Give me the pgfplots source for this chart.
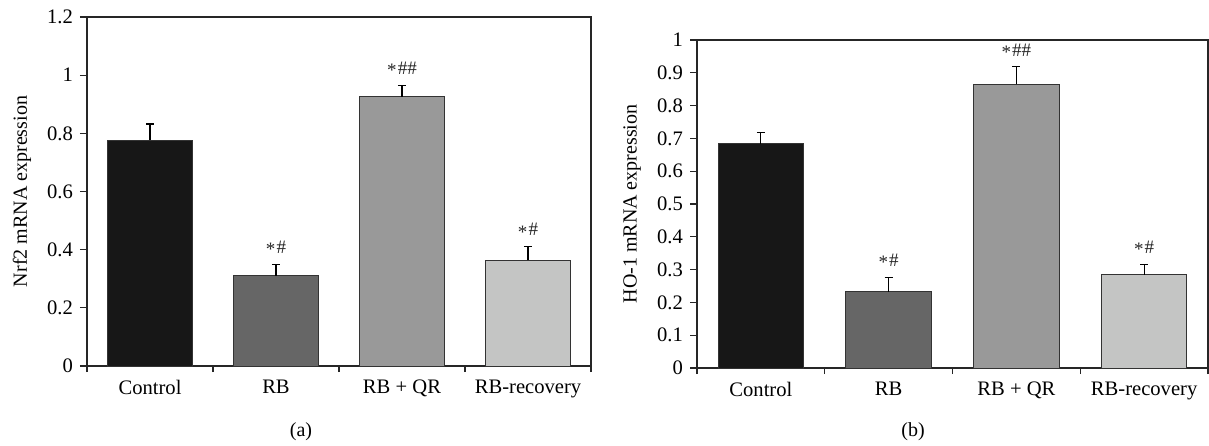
\documentclass[border=0pt]{standalone}
\usepackage{pgfplots}
\pgfplotsset{compat=1.18}
\usepackage{fontspec}
\setmainfont{Liberation Serif}
\definecolor{cA}{HTML}{171717}
\definecolor{cB}{HTML}{666666}
\definecolor{cC}{HTML}{999999}
\definecolor{cD}{HTML}{C4C5C4}
\newcommand{\myast}{\raisebox{-1.2pt}{*}\kern0.6pt}
\tikzset{ann/.style={anchor=south, font=\fontsize{9.5}{10}\selectfont, text=black!85, inner sep=1pt, yshift=3pt}}
\begin{document}
\begin{tikzpicture}[font=\fontsize{10}{12}\selectfont]
\useasboundingbox (0,0) rectangle (604.5pt,222.5pt);
\pgfplotsset{
  panel/.style={
    scale only axis, ybar, bar shift=0pt,
    xmin=-0.5, xmax=3.5, ymin=0,
    xtick={0,1,2,3},
    xticklabels={Control,RB,RB + QR,RB-recovery},
    major x tick style={draw=none},
    minor xtick={-0.5,0.5,1.5,2.5,3.5},
    tick align=outside, xtick pos=bottom, ytick pos=left,
    major tick length=3.5pt, minor tick length=3pt,
    axis line style={black!85, line width=0.6pt},
    every tick/.style={black!85, line width=0.6pt},
    tick label style={font=\fontsize{10.3}{12}\selectfont},
    /pgf/number format/assume math mode=true,
    yticklabel style={/pgf/number format/fixed, /pgf/number format/precision=1},
    error bars/y dir=plus, error bars/y explicit,
    error bars/error bar style={black, line width=0.6pt},
    error bars/error mark options={rotate=90, mark size=2pt, black, line width=0.6pt},
  },
  every axis plot/.append style={draw=black!80, line width=0.5pt},
}
% Panel (a)
\begin{axis}[panel, at={(43.5pt,39.5pt)}, anchor=south west,
  width=252pt, height=174.5pt, ymax=1.2, bar width=42.5pt,
  ytick={0,0.2,...,1.2}]
\addplot[fill=cA] coordinates {(0,0.777) +- (0,0.055)};
\addplot[fill=cB] coordinates {(1,0.310) +- (0,0.040)};
\addplot[fill=cC] coordinates {(2,0.925) +- (0,0.040)};
\addplot[fill=cD] coordinates {(3,0.364) +- (0,0.046)};
\node[ann] at (axis cs:1,0.350) {\myast\#};
\node[ann] at (axis cs:2,0.965) {\myast\#\#};
\node[ann] at (axis cs:3,0.410) {\myast\#};
\end{axis}
\node[rotate=90] at (11pt,126.75pt) {Nrf2 mRNA expression};
\node at (150.5pt,6.5pt) {(a)};
% Panel (b)
\begin{axis}[panel, at={(348.5pt,38.5pt)}, anchor=south west,
  width=255.5pt, height=164pt, ymax=1, bar width=42.8pt,
  ytick={0,0.1,...,1.0}]
\addplot[fill=cA] coordinates {(0,0.683) +- (0,0.035)};
\addplot[fill=cB] coordinates {(1,0.232) +- (0,0.045)};
\addplot[fill=cC] coordinates {(2,0.865) +- (0,0.053)};
\addplot[fill=cD] coordinates {(3,0.284) +- (0,0.032)};
\node[ann] at (axis cs:1,0.277) {\myast\#};
\node[ann] at (axis cs:2,0.918) {\myast\#\#};
\node[ann] at (axis cs:3,0.316) {\myast\#};
\end{axis}
\node[rotate=90] at (316pt,120.5pt) {HO-1 mRNA expression};
\node at (456.5pt,6.5pt) {(b)};
\end{tikzpicture}
\end{document}
